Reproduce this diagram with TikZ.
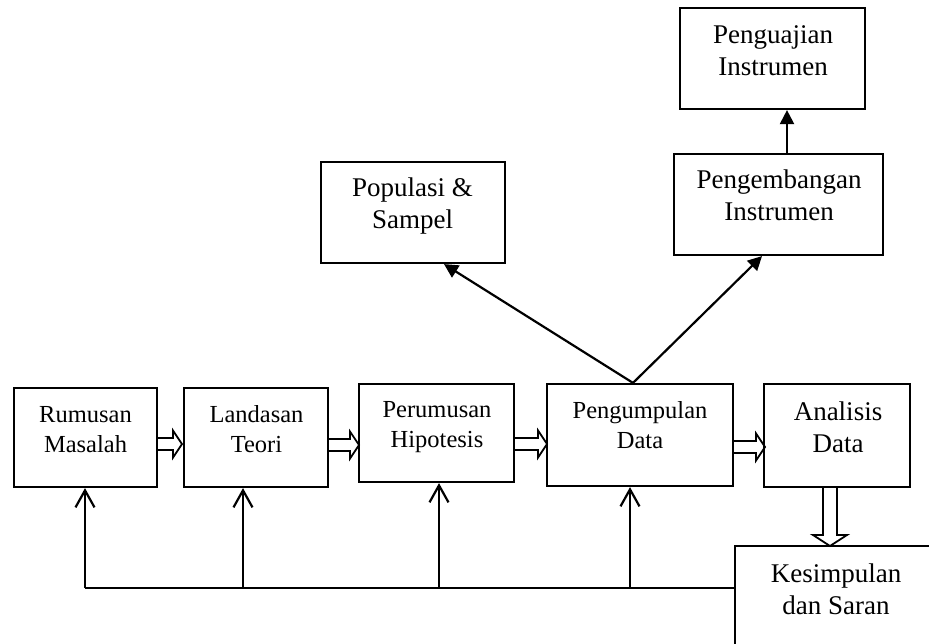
\documentclass[tikz,border=0pt]{standalone}
\usepackage{fontspec}
\setmainfont{Liberation Serif}
\usetikzlibrary{arrows.meta,calc}
\newcommand\hblk[3]{\draw[blk] (#1,#3-6) -- (#2-9,#3-6) -- (#2-9,#3-13.5) -- (#2,#3) -- (#2-9,#3+13.5) -- (#2-9,#3+6) -- (#1,#3+6) -- cycle;}
\begin{document}
\begin{tikzpicture}[x=1pt,y=-1pt,
  box/.style={draw, line width=2.2pt, inner sep=0pt},
  lbl/.style={align=center, anchor=base, inner sep=0pt},
  rowfont/.style={font=\fontsize{24.5}{30}\selectfont},
  bigfont/.style={font=\fontsize{27}{31.5}\selectfont},
  fb/.style={line width=2.2pt},
  fbarrow/.style={line width=2.2pt, -{Straight Barb[length=17pt,width=19pt]}},
  solidarrow/.style={line width=2.2pt, -{Triangle[length=14pt,width=14pt]}},
  blk/.style={draw, line width=1.8pt},
]
\useasboundingbox (0,0) rectangle (929,643);
\fill[white] (0,0) rectangle (929,643);
\clip (0,0) rectangle (929,643);

% block (hollow) arrows
\hblk{157}{182}{444}
\hblk{328}{359}{445}
\hblk{514}{547}{444}
\hblk{733}{765}{447}
\draw[blk] (823,487) -- (837,487) -- (837,535) -- (847,535) -- (830,546) -- (813,535) -- (823,535) -- cycle;

% boxes
\node[box, minimum width=143pt, minimum height=99pt] (rm) at (85.5,437.5) {};
\node[box, minimum width=144pt, minimum height=99pt] (lt) at (256,437.5) {};
\node[box, minimum width=155pt, minimum height=98pt] (ph) at (436.5,433) {};
\node[box, minimum width=186pt, minimum height=102pt] (pd) at (640,435) {};
\node[box, minimum width=146pt, minimum height=103pt] (ad) at (837,435.5) {};
\node[box, minimum width=225pt, minimum height=124pt] (ks) at (847.5,608) {};
\node[box, minimum width=184pt, minimum height=101pt] (ps) at (413,212.5) {};
\node[box, minimum width=209pt, minimum height=101pt] (pi) at (778.5,204.5) {};
\node[box, minimum width=185pt, minimum height=101pt] (ui) at (772.5,58.5) {};

% labels (anchor = baseline of the last line)
\node[lbl,rowfont] (rmt) at (85.5,452) {Rumusan\\Masalah};
\node[lbl,rowfont] (ltt) at (256.5,452) {Landasan\\Teori};
\node[lbl,rowfont] (pht) at (437,447) {Perumusan\\Hipotesis};
\node[lbl,rowfont] (pdt) at (640,448) {Pengumpulan\\Data};
\node[lbl,bigfont] (adt) at (838,452) {Analisis\\Data};
\node[lbl,bigfont] (kst) at (836,614) {Kesimpulan\\dan Saran};
\node[lbl,bigfont] (pst) at (412.5,228) {Populasi \&\\Sampel};
\node[lbl,bigfont] (pit) at (779,220) {Pengembangan\\Instrumen};
\node[lbl,bigfont] (uit) at (773,75) {Penguajian\\Instrumen};

% feedback lines
\coordinate (fbL) at (85,588);
\coordinate (fbR) at (fbL -| ks.west);
\draw[fb] (fbL) -- (fbR);
\coordinate (f1) at (85,588);
\coordinate (f2) at (243,588);
\coordinate (f3) at (439,588);
\coordinate (f4) at (630,588);
\draw[fbarrow] (f1) -- (f1 |- rm.south);
\draw[fbarrow] (f2) -- (f2 |- lt.south);
\draw[fbarrow] (f3) -- (f3 |- ph.south);
\draw[fbarrow] (f4) -- (f4 |- pd.south);

% upper arrows
\coordinate (apex) at ($(pd.north)+(-7,0)$);
\draw[solidarrow] (apex) -- ($(ps.south)+(31,0)$);
\draw[solidarrow] (apex) -- ($(pi.south)+(-16.5,0)$);
\draw[solidarrow] ($(pi.north)+(8.5,0)$) -- ($(ui.south)+(14.5,0)$);
\end{tikzpicture}
\end{document}
